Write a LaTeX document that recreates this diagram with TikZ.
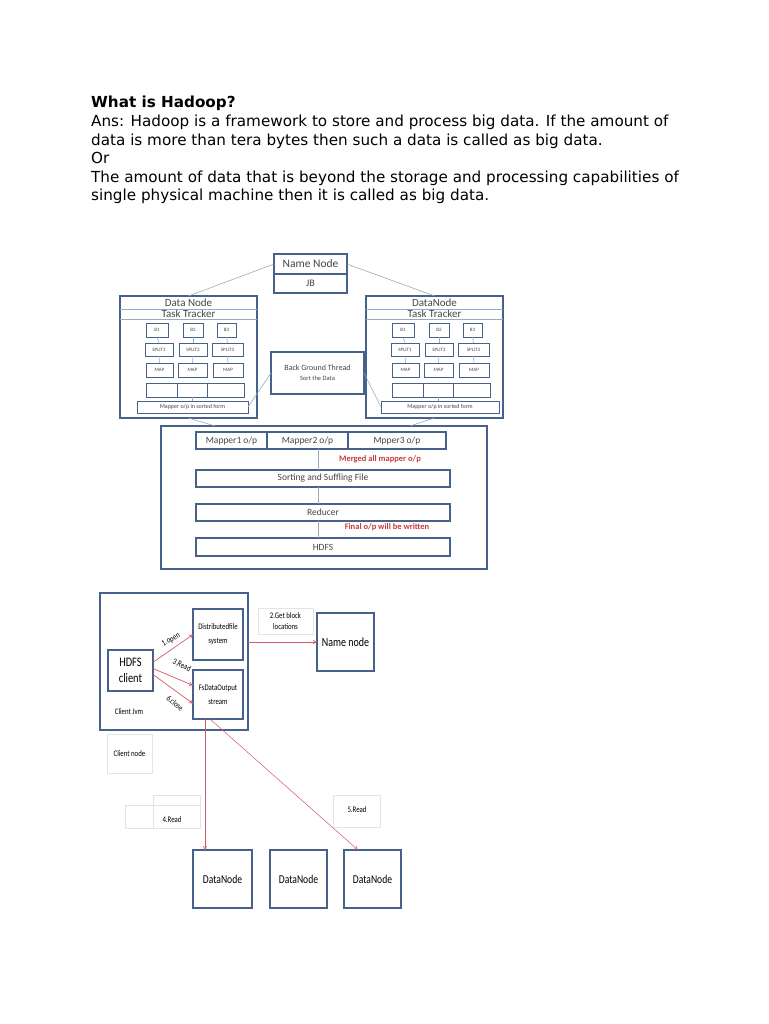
\documentclass[tikz,border=0pt]{standalone}
\usepackage{fontspec}
\setmainfont{DejaVu Sans}
\newfontfamily\crl{Carlito}
\newfontfamily\cnd[FakeStretch=0.8]{Carlito}
\usetikzlibrary{arrows.meta,calc}
\definecolor{bblue}{RGB}{70,98,138}
\definecolor{lite}{RGB}{150,170,195}
\definecolor{rarr}{RGB}{214,88,108}
\definecolor{rtxt}{RGB}{200,60,60}
\definecolor{faint}{RGB}{228,228,228}
\definecolor{dtxt}{RGB}{70,70,70}
\newcommand\mybox[7]{%
  \pgfmathsetmacro\bxw{(#4)-(#2)}\pgfmathsetmacro\bxh{(#5)-(#3)}%
  \node[#6, anchor=north west, minimum width=\bxw pt, minimum height=\bxh pt,
        inner sep=0pt, outer sep=0pt, align=center] (#1) at (#2,#3) {#7};}
\tikzset{
  tb/.style={draw=bblue, line width=1.1pt, text=dtxt},
  sb/.style={draw=bblue, line width=0.9pt, text=dtxt, font=\fontsize{5}{5}\crl},
  bb/.style={draw=bblue, line width=1.6pt, text=black},
  fb/.style={draw=faint, line width=0.6pt, text=black},
  liteline/.style={draw=lite, line width=0.6pt},
  redarr/.style={draw=rarr, line width=0.7pt, -{To[length=4pt,width=4pt]}},
  body/.style={anchor=base west, inner sep=0pt, font=\fontsize{15.2}{18}\selectfont, text=black},
  lbl/.style={inner sep=0pt, font=\fontsize{8.5}{10}\cnd, text=black, align=center},
  ttl/.style={text=dtxt, inner sep=0pt, font=\fontsize{11}{11}\crl}
}
\newcommand\dncontent[2]{%
  \mybox{#1b1}{146+#2}{323}{168+#2}{337}{sb}{B1}
  \mybox{#1b2}{183+#2}{323}{203+#2}{337}{sb}{B2}
  \mybox{#1b3}{217+#2}{323}{236+#2}{337}{sb}{B3}
  \mybox{#1s1}{145+#2}{343}{173+#2}{356}{sb}{SPLIT1}
  \mybox{#1s2}{179+#2}{343}{207+#2}{356}{sb}{SPLIT2}
  \mybox{#1s3}{212+#2}{343}{243+#2}{356}{sb}{SPLIT3}
  \mybox{#1m1}{146+#2}{363}{173+#2}{377}{sb}{MAP}
  \mybox{#1m2}{178+#2}{363}{207+#2}{377}{sb}{MAP}
  \mybox{#1m3}{213+#2}{363}{243+#2}{377}{sb}{MAP}
  \mybox{#1r1}{146+#2}{383}{177+#2}{397}{sb}{}
  \mybox{#1r2}{177+#2}{383}{207+#2}{397}{sb}{}
  \mybox{#1r3}{207+#2}{383}{244+#2}{397}{sb}{}
  \foreach \c in {1,2,3}{
    \draw[liteline] (#1b\c.south) -- (#1s\c.north);
    \draw[liteline] (#1s\c.south) -- (#1m\c.north);
  }
}
\begin{document}
\begin{tikzpicture}[x=1pt,y=-1pt]
\useasboundingbox[fill=white] (0,0) rectangle (768,1024);

% ---------- text ----------
\node[body, font=\fontsize{15.2}{18}\selectfont\bfseries] (t0) at (91,108) {What is Hadoop?};
\node[body] (t1) at (91,126.6) {Ans: Hadoop is a framework to store and process big data. If the amount of};
\node[body] (t2) at (91,145.2) {data is more than tera bytes then such a data is called as big data.};
\node[body] (t3) at (91,163.8) {Or};
\node[body] (t4) at (91,182.4) {The amount of data that is beyond the storage and processing capabilities of};
\node[body] (t5) at (91,201) {single physical machine then it is called as big data.};

% ---------- top diagram ----------
\mybox{nnA}{274}{254}{347}{274}{tb, font=\fontsize{11.5}{12}\crl}{Name Node}
\mybox{nnB}{274}{274}{347}{293}{tb, font=\fontsize{10}{11}\crl}{JB}
\mybox{dnL}{120}{296}{257}{418}{tb}{}
\mybox{dnR}{366}{296}{503}{418}{tb}{}
\node[ttl] (dnLt) at (188.5,303) {Data Node};
\node[ttl] (dnLt2) at (188.5,314) {Task Tracker};
\node[ttl] (dnRt) at (434.5,303) {DataNode};
\node[ttl] (dnRt2) at (434.5,314) {Task Tracker};
\draw[liteline] ($(dnL.north west)+(0,13)$) -- ($(dnL.north east)+(0,13)$);
\draw[liteline] ($(dnL.north west)+(0,23)$) -- ($(dnL.north east)+(0,23)$);
\draw[liteline] ($(dnR.north west)+(0,13)$) -- ($(dnR.north east)+(0,13)$);
\draw[liteline] ($(dnR.north west)+(0,23)$) -- ($(dnR.north east)+(0,23)$);
\dncontent{L}{0}
\dncontent{R}{246}
\mybox{mapL}{137}{401}{248}{413}{sb, font=\fontsize{6}{6}\crl}{Mapper o/p in sorted form}
\mybox{mapR}{381}{401}{499}{413}{sb, font=\fontsize{6}{6}\crl}{Mapper o/p in sorted form}
\draw[liteline] (Lr2.south) -- (Lr2.south |- mapL.north);
\draw[liteline] (Rr2.south) -- (Rr2.south |- mapR.north);
\mybox{bgt}{271}{352}{364}{394}{tb, font=\fontsize{8}{10}\crl}{Back Ground Thread\\{\fontsize{6.5}{8}\crl Sort the Data}}
\draw[liteline] (nnA.west) -- (dnL.north);
\draw[liteline] (nnA.east) -- (dnR.north);
\draw[liteline] (bgt.west) -- (mapL.east);
\draw[liteline] (bgt.east) -- (mapR.west);

\mybox{big}{161}{426}{487}{569}{tb}{}
\draw[liteline] (dnL.south) -- ($(big.north west)+(54,0)$);
\draw[liteline] (dnR.south) -- ($(big.north west)+(249,0)$);
\mybox{mr1}{196}{432}{267}{449}{tb, font=\fontsize{9.5}{10}\crl}{Mapper1 o/p}
\mybox{mr2}{267}{432}{348}{449}{tb, font=\fontsize{9.5}{10}\crl}{Mapper2 o/p}
\mybox{mr3}{348}{432}{446}{449}{tb, font=\fontsize{9.5}{10}\crl}{Mpper3 o/p}
\mybox{srt}{196}{470}{450}{487}{tb, font=\fontsize{9.5}{10}\crl}{Sorting and Suffling File}
\mybox{rdc}{196}{504}{450}{521}{tb, font=\fontsize{9.5}{10}\crl}{Reducer}
\mybox{hdfs}{196}{538}{450}{556}{tb, font=\fontsize{9.5}{10}\crl}{HDFS}
\draw[liteline] ($(mr2.south west)+(51,0)$) -- ($(srt.north west)+(122,0)$);
\draw[liteline] ($(srt.south west)+(122,0)$) -- ($(rdc.north west)+(122,0)$);
\draw[liteline] ($(rdc.south west)+(122,0)$) -- ($(hdfs.north west)+(122,0)$);
\node[inner sep=0pt, text=rtxt, font=\fontsize{8.5}{9}\crl\bfseries] (mrg) at (380,459) {Merged all mapper o/p};
\node[inner sep=0pt, text=rtxt, font=\fontsize{8.5}{9}\crl\bfseries] (fin) at (387,527.5) {Final o/p will be written};

% ---------- bottom diagram ----------
\mybox{cj}{100}{593}{248}{730}{bb}{}
\mybox{dfs}{193}{609}{243}{660}{bb, font=\fontsize{8.5}{14}\cnd}{Distributedfile\\system}
\mybox{fs}{193}{670}{243}{719}{bb, font=\fontsize{8.5}{14}\cnd}{FsDataOutput\\stream}
\mybox{hc}{108}{650}{153}{691}{bb, font=\fontsize{13}{16}\cnd}{HDFS\\client}
\node[lbl] (cjl) at (129,712) {Client Jvm};
\mybox{cn}{107}{734}{152}{773}{fb, font=\fontsize{8.5}{10}\cnd}{Client node}
\mybox{gbl}{258}{608}{313}{634}{fb, font=\fontsize{8.5}{11}\cnd}{2.Get block\\locations}
\mybox{nmn}{317}{613}{374}{671}{bb, font=\fontsize{12.5}{14}\cnd}{Name node}
\mybox{dn1}{193}{850}{252}{908}{bb, font=\fontsize{12}{14}\cnd}{DataNode}
\mybox{dn2}{270}{850}{327}{908}{bb, font=\fontsize{12}{14}\cnd}{DataNode}
\mybox{dn3}{344}{850}{401}{908}{bb, font=\fontsize{12}{14}\cnd}{DataNode}
\mybox{r4a}{125}{805}{200}{828}{fb}{}
\mybox{r4b}{153}{795}{200}{828}{fb}{}
\node[lbl] (r4t) at (172,820) {4.Read};
\mybox{r5}{333}{795}{380}{827}{fb}{}
\node[lbl] (r5t) at (357,810) {5.Read};

\draw[redarr] (hc.20) -- (dfs.west);
\draw[redarr] (hc.5) -- (fs.160);
\draw[redarr] (hc.-10) -- (fs.-160);
\node[lbl, rotate=28] (l1) at (171,640) {1.open};
\node[lbl, rotate=-25] (l3) at (182,665) {3.Read};
\node[lbl, rotate=-40] (l6) at (175,703) {6.close};
\draw[redarr] (cj.east |- nmn.west) -- (nmn.west);
\coordinate (fsA) at ($(fs.south west)+(12,0)$);
\coordinate (fsB) at ($(fs.south west)+(17,0)$);
\draw[redarr, line width=0.6pt] (fsA) -- (fsA |- dn1.north);
\draw[redarr, line width=0.5pt] (fsB) -- ($(dn3.north west)+(14,0)$);
\end{tikzpicture}
\end{document}
